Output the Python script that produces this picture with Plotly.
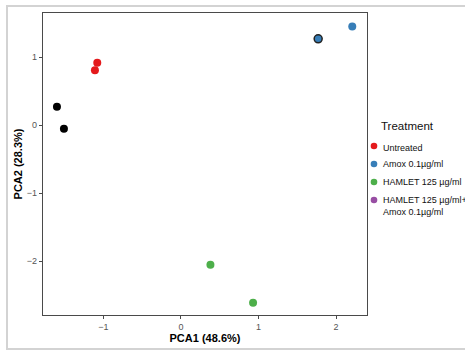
import plotly.graph_objects as go

# PCA scores per treatment group
untreated_x = [-1.08, -1.11]
untreated_y = [0.92, 0.81]
amox_x = [1.77, 2.21]
amox_y = [1.27, 1.45]
hamlet_x = [0.38, 0.93]
hamlet_y = [-2.05, -2.61]
combo_x = [-1.60, -1.51]
combo_y = [0.27, -0.05]

x_ticks = [-1, 0, 1, 2]
y_ticks = [-2, -1, 0, 1]

legend_labels = ["Untreated", "Amox 0.1µg/ml", "HAMLET 125 µg/ml",
                 "HAMLET 125 µg/ml+<br>Amox 0.1µg/ml"]
legend_colors = ["#e41a1c", "#377eb8", "#4daf4a", "#984ea3"]

# plot area in pixels
L, R, T, B = 43, 367, 13, 315
W, H = R - L, B - T


def px_x(p):
    return (p - L) / W


def px_y(p):
    return (B - p) / H


fig = go.Figure()
ms = 8

fig.add_trace(go.Scatter(x=untreated_x, y=untreated_y, mode="markers", name="Untreated",
                         marker=dict(color=legend_colors[0], size=ms, line=dict(width=0))))
fig.add_trace(go.Scatter(x=[amox_x[1]], y=[amox_y[1]], mode="markers", name="Amox 0.1µg/ml",
                         marker=dict(color=legend_colors[1], size=ms, line=dict(width=0))))
fig.add_trace(go.Scatter(x=[amox_x[0]], y=[amox_y[0]], mode="markers", name="Amox 0.1µg/ml",
                         marker=dict(color=legend_colors[1], size=ms, line=dict(width=1.5, color="#222222"))))
fig.add_trace(go.Scatter(x=hamlet_x, y=hamlet_y, mode="markers", name="HAMLET 125 µg/ml",
                         marker=dict(color=legend_colors[2], size=ms, line=dict(width=0))))
fig.add_trace(go.Scatter(x=combo_x, y=combo_y, mode="markers", name="HAMLET 125 µg/ml+Amox 0.1µg/ml",
                         marker=dict(color="#000000", size=ms, line=dict(width=0))))

axis_common = dict(
    showgrid=False, zeroline=False, showline=True, mirror=True,
    linecolor="#4a4a4a", linewidth=1.2,
    ticks="outside", ticklen=3, tickwidth=1, tickcolor="#4a4a4a",
    tickfont=dict(family="Liberation Sans, Arial, sans-serif", size=9, color="#555555"),
)

# Legend drawn as circle keys plus text labels to the right of the panel
shapes = [dict(type="rect", xref="paper", yref="paper",
               x0=px_x(7), x1=1.6, y0=px_y(349), y1=px_y(6),
               line=dict(color="#d3d3d3", width=2), layer="below")]
annotations = [dict(text="Treatment", xref="paper", yref="paper",
                    x=px_x(379), y=px_y(126), xanchor="left", yanchor="middle",
                    showarrow=False, font=dict(size=11.5, color="#111111"))]
key_y = [146, 164, 182, 200]
text_y = [147.5, 163.5, 182, 205.5]
for lab, col, ky, ty in zip(legend_labels, legend_colors, key_y, text_y):
    shapes.append(dict(type="circle", xref="paper", yref="paper",
                       xsizemode="pixel", ysizemode="pixel",
                       xanchor=px_x(374), yanchor=px_y(ky),
                       x0=-3.3, x1=3.3, y0=-3.3, y1=3.3,
                       fillcolor=col, line=dict(width=0)))
    annotations.append(dict(text=lab, xref="paper", yref="paper",
                            x=px_x(381), y=px_y(ty), xanchor="left", yanchor="middle",
                            align="left", showarrow=False,
                            font=dict(size=9, color="#111111")))

fig.update_layout(
    width=465, height=351,
    margin=dict(l=L, r=465 - R, t=T, b=351 - B, autoexpand=False),
    paper_bgcolor="white", plot_bgcolor="white",
    font=dict(family="Liberation Sans, Arial, sans-serif"),
    showlegend=False,
    xaxis=dict(range=[-1.78, 2.40], tickvals=x_ticks, ticktext=["−1", "0", "1", "2"],
               ticklabelstandoff=0,
               title=dict(text="<b>PCA1 (48.6%)</b>", font=dict(size=11, color="black"), standoff=1),
               **axis_common),
    yaxis=dict(range=[-2.79, 1.65], tickvals=y_ticks, ticktext=["−2", "−1", "0", "1"],
               title=dict(text="<b>PCA2 (28.3%)</b>", font=dict(size=11, color="black"), standoff=1),
               **axis_common),
    shapes=shapes,
    annotations=annotations,
)

fig.write_html("out.html")
